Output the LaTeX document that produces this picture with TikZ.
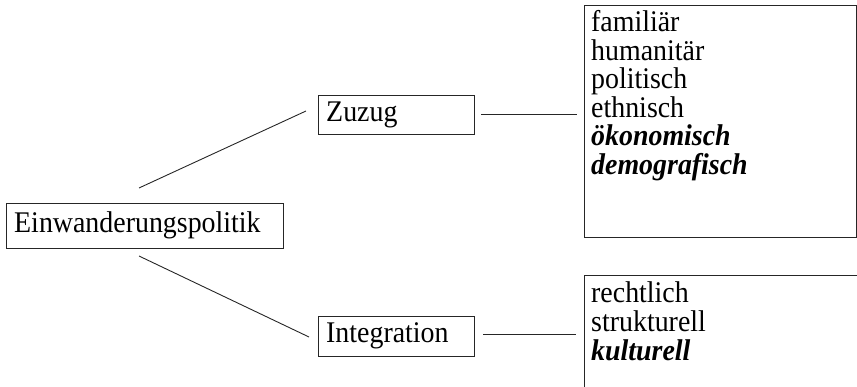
\documentclass[tikz,border=0pt]{standalone}
\usepackage{fontspec}
\setmainfont{Liberation Serif}[FakeStretch=0.93]
\begin{document}
\begin{tikzpicture}[x=1pt,y=-1pt,
  frame/.style={draw=black!85, line width=1pt, inner sep=0pt, anchor=north west},
  conn/.style={draw=black!85, line width=0.9pt},
  lbl/.style={anchor=base west, inner sep=0pt, font=\fontsize{30}{31}\selectfont},
  bi/.style={lbl, font=\fontsize{30}{31}\selectfont\bfseries\itshape}]
\useasboundingbox (0,0) rectangle (857,387);
% boxes
\node[frame, minimum width=277pt, minimum height=45pt] (ein) at (6,203) {};
\node[frame, minimum width=156pt, minimum height=39pt] (zuz) at (318,95) {};
\node[frame, minimum width=156pt, minimum height=40pt] (int) at (318,316) {};
\node[frame, minimum width=272pt, minimum height=232pt] (top) at (584,5) {};
\node[inner sep=0pt, anchor=north west, minimum width=273pt, minimum height=112pt] (bot) at (584,275) {};
\draw[conn] (bot.south west) -- (bot.north west) -- (bot.north east);
% texts
\node[lbl] (tein) at (14,233) {Einwanderungspolitik};
\node[lbl] (tzuz) at (326,122) {Zuzug};
\node[lbl] (tint) at (326,343) {Integration};
\node[lbl] (t1) at (591,32) {familiär};
\node[lbl] (t2) at (591,60.5) {humanitär};
\node[lbl] (t3) at (591,89) {politisch};
\node[lbl] (t4) at (591,117.5) {ethnisch};
\node[bi] (t5) at (591,146) {ökonomisch};
\node[bi] (t6) at (591,174.5) {demografisch};
\node[lbl] (b1) at (591,303) {rechtlich};
\node[lbl] (b2) at (591,332) {strukturell};
\node[bi] (b3) at (591,360.5) {kulturell};
% connector ends
\coordinate (c1) at (139,188);
\coordinate (c2) at (306,111);
\coordinate (c3) at (139,256);
\coordinate (c4) at (309,337);
\coordinate (c5) at (481,114);
\coordinate (c6) at (577,114);
\coordinate (c7) at (483,334);
\coordinate (c8) at (576,334);
\draw[conn] (c1) -- (c2);
\draw[conn] (c3) -- (c4);
\draw[conn] (c5) -- (c6);
\draw[conn] (c7) -- (c8);
\end{tikzpicture}
\end{document}
